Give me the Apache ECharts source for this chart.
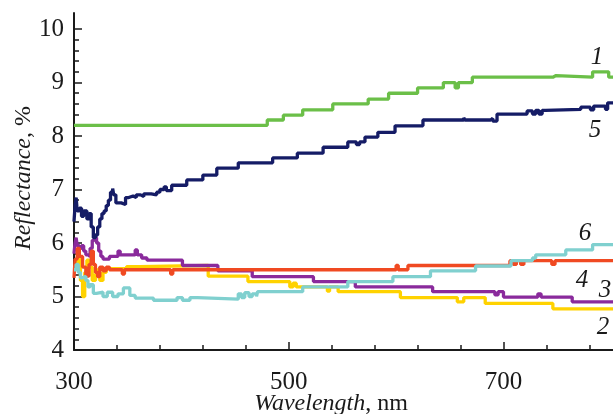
<!DOCTYPE html>
<html>
<head>
<meta charset="utf-8">
<script src="https://cdn.jsdelivr.net/npm/echarts@6/dist/echarts.min.js"></script>
<style>
  html, body { margin: 0; padding: 0; background: #fff; }
  #chart { width: 613px; height: 414px; }
</style>
</head>
<body>
<div id="chart"></div>
<script>
  // curve 1 (green)
  const curve1 = [[300,8.2],[480,8.3],[495,8.39],[513,8.49],[541,8.6],[574,8.69],[593,8.8],[620,8.9],[644,9.0],[655,8.9],[658,9.0],[671,9.1],[746,9.13],[749,9.1],[783,9.2],[798,9.1],[802,9.1]]
  // curve 2 (yellow)
  const curve2 = [[300,5.65],[302,5.6],[304,5.7],[306,5.3],[308,5.0],[310,5.45],[312,5.68],[314,5.55],[317,5.3],[320,5.42],[322,5.5],[324,5.3],[327,5.45],[330,5.52],[349,5.56],[361,5.58],[425,5.38],[462,5.28],[501,5.18],[504,5.25],[507,5.18],[536,5.1],[538,5.18],[546,5.09],[604,4.98],[657,4.9],[663,4.98],[683,4.87],[746,4.77],[802,4.77]]
  // curve 3 (purple)
  const curve3 = [[300,5.8],[301,6.0],[302,6.1],[303,5.95],[305,5.9],[307,5.95],[309,5.85],[311,5.78],[313,5.75],[315,5.9],[317,6.05],[319,6.1],[321,6.0],[323,5.85],[325,5.75],[327,5.7],[333,5.75],[341,5.85],[343,5.78],[357,5.87],[359,5.78],[363,5.72],[368,5.68],[401,5.58],[434,5.48],[466,5.37],[523,5.28],[562,5.18],[634,5.09],[692,5.03],[695,5.09],[700,4.99],[732,5.05],[735,4.99],[764,4.9],[802,4.9]]
  // curve 4 (red)
  const curve4 = [[300,5.35],[301,5.7],[303,5.9],[305,5.75],[308,5.55],[311,5.38],[314,5.6],[316,5.85],[318,5.6],[320,5.45],[322,5.37],[324,5.55],[327,5.48],[330,5.55],[333,5.5],[345,5.42],[347,5.5],[390,5.42],[392,5.5],[600,5.58],[602,5.5],[611,5.58],[706,5.67],[709,5.6],[712,5.67],[716,5.6],[719,5.67],[745,5.6],[748,5.67],[802,5.67]]
  // curve 5 (navy)
  const curve5 = [[300,6.4],[301,6.7],[302,6.85],[303,6.6],[305,6.65],[307,6.5],[309,6.6],[312,6.45],[314,6.55],[316,6.3],[318,6.1],[320,6.15],[322,6.3],[324,6.45],[326,6.55],[328,6.6],[330,6.7],[332,6.8],[334,6.95],[336,7.02],[337,6.9],[339,6.75],[344,6.72],[348,6.85],[351,6.88],[355,6.85],[358,6.9],[362,6.87],[365,6.92],[372,6.9],[377,6.95],[380,7.0],[384,7.05],[386,6.98],[391,7.08],[405,7.18],[420,7.27],[433,7.4],[453,7.5],[485,7.59],[508,7.68],[532,7.79],[555,7.89],[563,7.84],[566,7.89],[571,7.98],[583,8.07],[599,8.19],[625,8.3],[663,8.34],[664,8.3],[688,8.33],[690,8.28],[694,8.41],[722,8.47],[727,8.41],[730,8.48],[733,8.41],[736,8.48],[739,8.5],[772,8.54],[781,8.49],[784,8.56],[795,8.5],[797,8.62],[802,8.62]]
  // curve 6 (cyan)
  const curve6 = [[300,5.5],[302,5.6],[304,5.45],[306,5.35],[308,5.38],[311,5.3],[313,5.18],[315,5.22],[318,5.06],[321,5.08],[327,5.0],[331,5.08],[336,5.0],[341,5.05],[346,5.16],[352,5.02],[357,4.97],[374,4.93],[396,4.98],[401,4.93],[408,4.98],[415,4.95],[453,5.05],[456,4.98],[459,5.07],[463,5.0],[466,5.05],[470,5.0],[471,5.09],[513,5.18],[555,5.28],[597,5.37],[632,5.48],[674,5.57],[707,5.67],[727,5.72],[730,5.78],[758,5.87],[783,5.97],[802,5.97]]

  const xMajor = [300, 500, 700]
  const xMinor = [340, 380, 420, 460, 540, 580, 620, 660, 740, 780]
  const yMajor = [4, 5, 6, 7, 8, 9, 10]
  const yMinor = [4.2, 4.4, 4.6, 4.8, 5.2, 5.4, 5.6, 5.8, 6.2, 6.4, 6.6, 6.8, 7.2, 7.4, 7.6, 7.8, 8.2, 8.4, 8.6, 8.8, 9.2, 9.4, 9.6, 9.8]

  const font = '"Liberation Serif", "Times New Roman", serif'
  const grid = { left: 74, right: 0, top: 13, bottom: 64 }

  const chart = echarts.init(document.getElementById('chart'))

  function curve(data, color) {
    return {
      type: 'line',
      step: 'end',
      showSymbol: false,
      color: color,
      lineStyle: { width: 3.3, color: color },
      data: data
    }
  }

  function tag(text, x, y) {
    return {
      type: 'text',
      x: x,
      y: y,
      style: {
        text: text,
        font: 'italic 25px ' + font,
        fill: '#1a1a1a',
        align: 'center',
        verticalAlign: 'middle'
      }
    }
  }

  chart.setOption({
    animation: false,
    grid: [grid, grid],
    xAxis: [
      {
        type: 'value',
        min: 300,
        max: 802,
        axisLine: { lineStyle: { color: '#1a1a1a', width: 2 } },
        axisTick: { inside: true, length: 8, customValues: xMajor, lineStyle: { color: '#1a1a1a', width: 1.5 } },
        axisLabel: { customValues: xMajor, margin: 20, color: '#1a1a1a', fontSize: 25, fontFamily: font },
        splitLine: { show: false }
      },
      {
        type: 'value',
        gridIndex: 1,
        min: 300,
        max: 802,
        axisLine: { show: false },
        axisTick: { inside: true, length: 5, customValues: xMinor, lineStyle: { color: '#1a1a1a', width: 1.5 } },
        axisLabel: { show: false },
        splitLine: { show: false }
      }
    ],
    yAxis: [
      {
        type: 'value',
        min: 4,
        max: 10.3,
        axisLine: { show: true, lineStyle: { color: '#1a1a1a', width: 2 } },
        axisTick: { show: true, inside: true, length: 8, customValues: yMajor, lineStyle: { color: '#1a1a1a', width: 1.5 } },
        axisLabel: { customValues: yMajor, margin: 10, color: '#1a1a1a', fontSize: 25, fontFamily: font },
        splitLine: { show: false }
      },
      {
        type: 'value',
        gridIndex: 1,
        min: 4,
        max: 10.3,
        axisLine: { show: false },
        axisTick: { show: true, inside: true, length: 5, customValues: yMinor, lineStyle: { color: '#1a1a1a', width: 1.5 } },
        axisLabel: { show: false },
        splitLine: { show: false }
      }
    ],
    graphic: [
      {
        type: 'text',
        x: 331,
        y: 404,
        style: {
          text: '{i|Wavelength}{n|, nm}',
          align: 'center',
          verticalAlign: 'middle',
          rich: {
            i: { fontStyle: 'italic', fontSize: 24, fontFamily: font, fill: '#1a1a1a' },
            n: { fontSize: 24, fontFamily: font, fill: '#1a1a1a' }
          }
        }
      },
      {
        type: 'text',
        x: 24,
        y: 178,
        rotation: Math.PI / 2,
        style: {
          text: '{i|Reflectance}{n|, %}',
          align: 'center',
          verticalAlign: 'middle',
          rich: {
            i: { fontStyle: 'italic', fontSize: 24, fontFamily: font, fill: '#1a1a1a' },
            n: { fontSize: 24, fontFamily: font, fill: '#1a1a1a' }
          }
        }
      },
      tag('1', 597, 57),
      tag('5', 595, 130),
      tag('6', 585, 233),
      tag('4', 582, 280),
      tag('3', 605, 290),
      tag('2', 603, 327)
    ],
    series: [
      curve(curve2, '#ffd200'),
      curve(curve3, '#8a2a9c'),
      curve(curve4, '#f04a22'),
      curve(curve6, '#80d0cf'),
      curve(curve5, '#151c66'),
      curve(curve1, '#6bbf48')
    ]
  })
</script>
</body>
</html>
